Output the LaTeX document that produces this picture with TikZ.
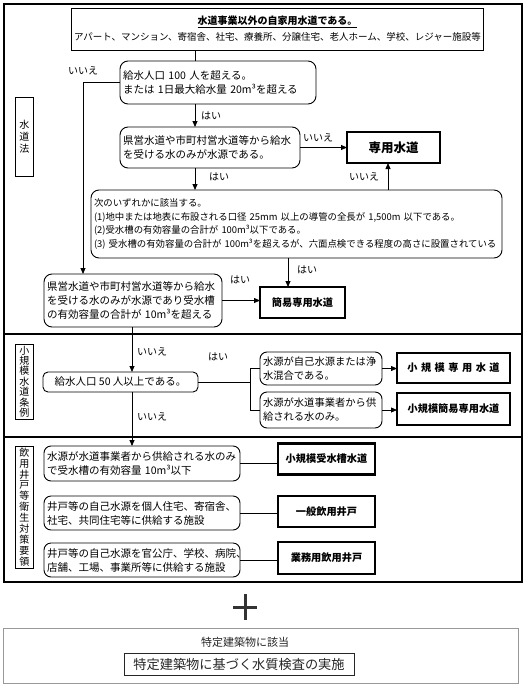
\documentclass[tikz,border=0pt]{standalone}
\usepackage{fontspec}
\setmainfont{Noto Sans CJK JP}
\usetikzlibrary{arrows.meta,calc}
\begin{document}
\begin{tikzpicture}[x=1pt,y=-1pt,
  every node/.style={inner sep=0pt, outer sep=0pt},
  thin/.style={draw, line width=0.9pt, inner xsep=3pt, align=left, font=\fontsize{10.5}{14}\selectfont},
  rbox/.style={thin, rounded corners=8pt},
  bbox/.style={draw, line width=2.3pt, align=center, font=\fontsize{10.2}{12}\selectfont\bfseries},
  side/.style={draw, line width=0.9pt, minimum width=18pt, align=center},
  lab/.style={font=\fontsize{10}{12}\selectfont},
  arr/.style={line width=0.8pt, -{Triangle[length=6pt,width=5pt]}},
  con/.style={line width=0.8pt},
  sep/.style={line width=2.4pt}
]
\useasboundingbox (0,0) rectangle (528,686);
% frame and separators
\draw[line width=1.2pt] (4,4) rectangle (522,582);
\draw[sep] (4,334) -- (522,334);
\draw[sep] (4,437) -- (522,437);

% side labels
\node[side, minimum height=79pt, font=\fontsize{10}{12}\selectfont] (s1) at (24.5,136.5) {水\\道\\法};
\node[side, minimum height=75pt, font=\fontsize{10}{10.4}\selectfont] (s2) at (24.5,381.5) {小\\規\\模\\水\\道\\条\\例};
\node[side, minimum height=122pt, font=\fontsize{10}{10.9}\selectfont] (s3) at (24.5,507) {飲\\用\\井\\戸\\等\\衛\\生\\対\\策\\要\\領};

% section 1
\node[thin, align=center, minimum width=405pt, minimum height=42pt] (top) at (277.5,29)
  {{\fontsize{10}{13}\selectfont\bfseries\underline{水道事業以外の自家用水道である。}}\\[2pt]
   {\fontsize{9.5}{12}\selectfont アパート、マンション、寄宿舎、社宅、療養所、分譲住宅、老人ホーム、学校、レジャー施設等}};
\node[rbox, text width=190pt, minimum height=43pt] (A) at (218,82.5)
  {給水人口 100 人を超える。\\または 1日最大給水量 20m³を超える};
\node[rbox, text width=174pt, minimum height=41pt] (B) at (210,147.5)
  {県営水道や市町村営水道等から給水\\を受ける水のみが水源である。};
\node[bbox, minimum width=93pt, minimum height=31pt, font=\fontsize{12.5}{14}\selectfont\bfseries] (J) at (393.5,147.5) {専用水道};
\node[rbox, text width=405pt, minimum height=68pt, font=\fontsize{9.4}{13.5}\selectfont] (C) at (296.5,224)
  {次のいずれかに該当する。\\
   (1)地中または地表に布設される口径 25mm 以上の導管の全長が 1,500m 以下である。\\
   (2)受水槽の有効容量の合計が 100m³以下である。\\
   (3) 受水槽の有効容量の合計が 100m³を超えるが、六面点検できる程度の高さに設置されている};
\node[rbox, text width=172pt, minimum height=53pt] (D) at (133,300.5)
  {県営水道や市町村営水道等から給水\\を受ける水のみが水源であり受水槽\\の有効容量の合計が 10m³を超える};
\node[bbox, minimum width=85pt, minimum height=31pt] (K) at (302.5,302.5) {簡易専用水道};

% section 2
\node[rbox, rounded corners=5pt, align=center, minimum width=155pt, minimum height=20pt] (E) at (120.5,382) {給水人口 50 人以上である。};
\node[rbox, rounded corners=7pt, text width=116pt, minimum height=33pt, font=\fontsize{10.3}{14}\selectfont] (F1) at (321,368.5) {水源が自己水源または浄\\水混合である。};
\node[rbox, rounded corners=7pt, text width=116pt, minimum height=36pt, font=\fontsize{10.3}{14}\selectfont] (F2) at (321,410) {水源が水道事業者から供\\給される水のみ。};
\node[bbox, minimum width=113pt, minimum height=30pt] (G1) at (453.5,368) {小\hspace{3.5pt}規\hspace{3.5pt}模\hspace{3.5pt}専\hspace{3.5pt}用\hspace{3.5pt}水\hspace{3.5pt}道};
\node[bbox, minimum width=113pt, minimum height=32pt] (G2) at (453.5,409) {小規模簡易専用水道};

% section 3
\node[rbox, rounded corners=7pt, text width=190pt, minimum height=35pt] (H1) at (142,463.5) {水源が水道事業者から供給される水のみ\\で受水槽の有効容量 10m³以下};
\node[rbox, rounded corners=7pt, text width=190pt, minimum height=34pt] (H2) at (142,513) {井戸等の自己水源を個人住宅、寄宿舎、\\社宅、共同住宅等に供給する施設};
\node[rbox, rounded corners=7pt, text width=190pt, minimum height=34pt] (H3) at (142,560) {井戸等の自己水源を官公庁、学校、病院、\\店舗、工場、事業所等に供給する施設};
\node[bbox, minimum width=97pt, minimum height=31pt] (I1) at (326.5,459) {小規模受水槽水道};
\node[bbox, minimum width=97pt, minimum height=31pt] (I2) at (326.5,511.5) {一般飲用井戸};
\node[bbox, minimum width=97pt, minimum height=32pt] (I3) at (326.5,558) {業務用飲用井戸};

% helper columns
\coordinate (x83) at (83,0);
\coordinate (x195) at (195,0);
\coordinate (x388) at (388,0);
\coordinate (x288) at (288,0);
\coordinate (x132) at (132,0);
\coordinate (x250) at (250,0);

% connectors
\draw[con] (top.south -| x195) -- (A.north -| x195);
\draw[arr] (A.west) -- (A.west -| x83) -- (D.north -| x83);
\draw[arr] (A.south -| x195) -- (B.north -| x195);
\draw[arr] (B.east) -- (J.west);
\draw[arr] (B.south -| x195) -- (C.north -| x195);
\draw[arr] (C.north -| x388) -- (J.south -| x388);
\draw[arr] (C.south -| x288) -- (K.north -| x288);
\draw[arr] (D.east) -- (D.east -| K.west);
\draw[arr] (D.south -| x132) -- (E.north -| x132);
\draw[con] (E.east) -- (E.east -| x250);
\draw[con] (F1.west) -- (F1.west -| x250) -- (F2.west -| x250) -- (F2.west);
\draw[arr] (F1.east) -- (F1.east -| G1.west);
\draw[arr] (F2.east) -- (F2.east -| G2.west);
\draw[arr] (E.south -| x132) -- (H1.north -| x132);
\draw[con] (H1.east) -- (H1.east -| I1.west);
\draw[con] (H2.east) -- (H2.east -| I2.west);
\draw[con] (H3.east) -- (H3.east -| I3.west);

% labels
\node[lab] (l1) at (83,71) {いいえ};
\node[lab] (l2) at (211,116) {はい};
\node[lab] (l3) at (318,138) {いいえ};
\node[lab] (l4) at (219,177) {はい};
\node[lab] (l5) at (364,177) {いいえ};
\node[lab] (l6) at (307,270) {はい};
\node[lab] (l7) at (240,280) {はい};
\node[lab] (l8) at (152,352) {いいえ};
\node[lab] (l9) at (218,357) {はい};
\node[lab] (l10) at (152,417) {いいえ};

% bottom
\draw[line width=3pt, black!80] (233,607) -- (257,607) (245,594) -- (245,620);
\node[draw=black!40, line width=1pt, minimum width=515pt, minimum height=55pt] (sp) at (260.5,655.5) {};
\node[font=\fontsize{11}{13}\selectfont, text=black!85] (sp1) at (245,642) {特定建築物に該当};
\node[draw=black!85, line width=0.8pt, minimum width=230pt, minimum height=22pt, font=\fontsize{13.2}{15}\selectfont, text=black!85] (sp2) at (239,664) {特定建築物に基づく水質検査の実施};
\end{tikzpicture}
\end{document}
